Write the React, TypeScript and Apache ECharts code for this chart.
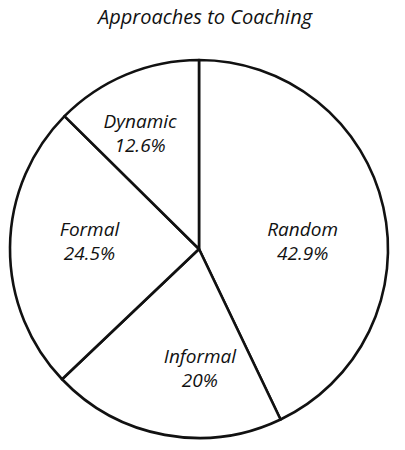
import React, { useEffect, useRef } from "react";
import * as echarts from "echarts";

const title = "Approaches to Coaching";
const categories = ["Random", "Informal", "Formal", "Dynamic"];
const values = [42.9, 20, 24.5, 12.6];
// hand-placement nudges of each label (dx, dy in px)
const labelShift = [
  [-10, 18],
  [22, 4],
  [7, -7],
  [-14, -9],
];

export default function App() {
  const ref = useRef<HTMLDivElement>(null);
  useEffect(() => {
    const chart = echarts.init(ref.current!, null, { renderer: "svg" });
    const font = "'Open Sans', Lato, sans-serif";
    const data = categories.map((c, i) => ({ name: c, value: values[i] }));
    const center = [199, 249];
    chart.setOption({
      animation: false,
      backgroundColor: "#ffffff",
      title: {
        text: title,
        left: 93,
        top: 1,
        textStyle: {
          fontFamily: font,
          fontStyle: "italic",
          fontWeight: "normal",
          fontSize: 20,
          color: "#111",
        },
      },
      series: [
        {
          type: "pie",
          center,
          radius: [0, 189],
          startAngle: 90,
          clockwise: true,
          silent: true,
          data,
          itemStyle: {
            color: "#ffffff",
            borderColor: "#111111",
            borderWidth: 2.6,
            borderJoin: "round",
          },
          label: { show: false },
          labelLine: { show: false },
          emphasis: { disabled: true },
        },
        {
          type: "pie",
          center,
          radius: [38, 189],
          startAngle: 90,
          clockwise: true,
          silent: true,
          avoidLabelOverlap: false,
          data,
          itemStyle: { color: "rgba(0,0,0,0)", borderWidth: 0 },
          label: {
            show: true,
            position: "inside",
            formatter: (p: any) => `${p.name}\n${p.value}%`,
            fontFamily: font,
            fontStyle: "italic",
            fontSize: 19,
            lineHeight: 24,
            color: "#111",
            align: "center",
          },
          labelLayout: (p: any) => ({
            dx: labelShift[p.dataIndex][0],
            dy: labelShift[p.dataIndex][1],
          }),
          labelLine: { show: false },
          emphasis: { disabled: true },
        },
      ],
    });
    return () => chart.dispose();
  }, []);
  return <div ref={ref} style={{ width: 405, height: 450, margin: -8 }} />;
}
